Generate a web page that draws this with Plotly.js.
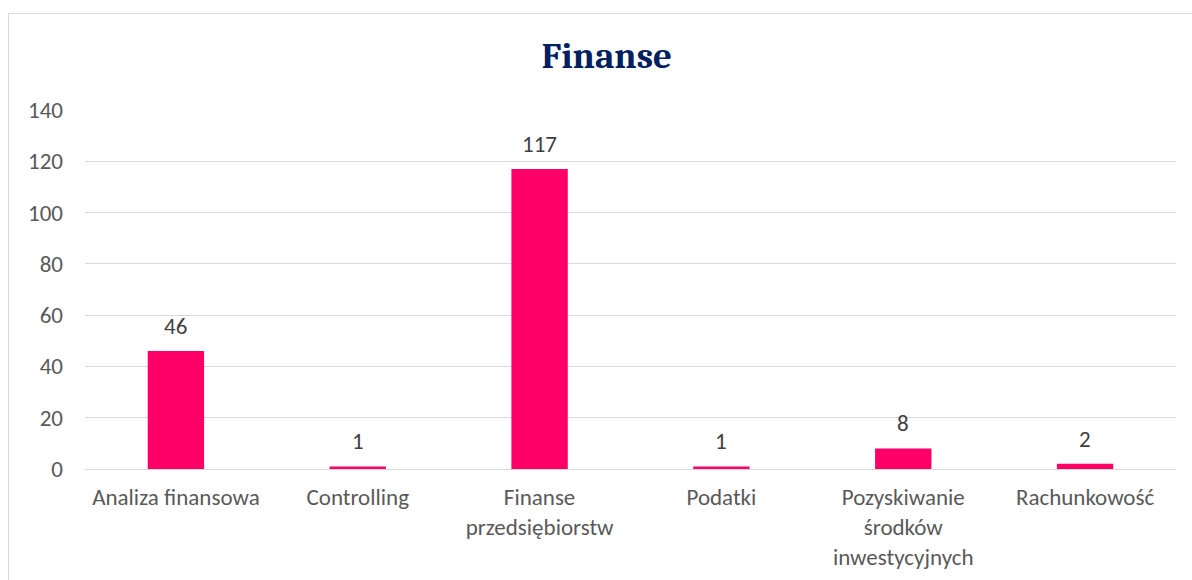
<!DOCTYPE html>
<html>
<head>
<meta charset="utf-8">
<script src="https://cdn.plot.ly/plotly-3.0.1.min.js"></script>
<style>
  html, body { margin: 0; padding: 0; background: #ffffff; }
  #wrap { position: relative; width: 1192px; height: 580px; overflow: hidden; }
  #frame { position: absolute; left: 8px; top: 13px; width: 1300px; height: 700px;
           border-left: 1px solid #d9d9d9; border-top: 1px solid #d9d9d9; pointer-events: none; }
  #chart { position: absolute; left: 0; top: 0; width: 1192px; height: 580px; }
</style>
</head>
<body>
<div id="wrap">
  <div id="chart"></div>
  <div id="frame"></div>
</div>
<script>
const categories = [
  "Analiza finansowa",
  "Controlling",
  "Finanse<br>przedsiębiorstw",
  "Podatki",
  "Pozyskiwanie<br>środków<br>inwestycyjnych",
  "Rachunkowość"
];
const values = [46, 1, 117, 1, 8, 2];
const yTicks = [0, 20, 40, 60, 80, 100, 120, 140];

const font = "Carlito, Lato, 'Open Sans', sans-serif";

const trace = {
  type: "bar",
  x: categories,
  y: values,
  marker: { color: "#ff0066" },
  hoverinfo: "x+y"
};

const labels = categories.map((c, i) => ({
  x: c,
  y: values[i],
  xref: "x",
  yref: "y",
  text: String(values[i]),
  showarrow: false,
  yanchor: "bottom",
  yshift: 9,
  font: { family: font, size: 23, color: "#404040" }
}));

const layout = {
  width: 1192,
  height: 580,
  margin: { l: 85, r: 16, t: 110, b: 111 },
  paper_bgcolor: "rgba(0,0,0,0)",
  plot_bgcolor: "rgba(0,0,0,0)",
  bargap: 0.69,
  showlegend: false,
  annotations: labels,
  title: {
    text: "<b>Finanse</b>",
    font: { family: "Cambria, 'Liberation Serif', 'DejaVu Serif', serif", size: 37, color: "#002060" },
    xref: "container",
    x: 0.509,
    xanchor: "center",
    yref: "container",
    y: 0.905,
    yanchor: "middle"
  },
  xaxis: {
    type: "category",
    tickfont: { family: font, size: 23, color: "#595959" },
    showgrid: false,
    showline: false,
    zeroline: false,
    ticks: "",
    ticklabelstandoff: 12,
    automargin: false
  },
  yaxis: {
    range: [0, 140],
    tickvals: yTicks,
    ticktext: yTicks.map(String),
    tickfont: { family: font, size: 23, color: "#595959" },
    showgrid: true,
    gridcolor: "#d9d9d9",
    gridwidth: 1,
    zeroline: true,
    zerolinecolor: "#d9d9d9",
    zerolinewidth: 1,
    showline: false,
    ticks: "",
    ticklabelstandoff: 21,
    automargin: false
  }
};

Plotly.newPlot("chart", [trace], layout, { displayModeBar: false, staticPlot: true });
</script>
</body>
</html>
